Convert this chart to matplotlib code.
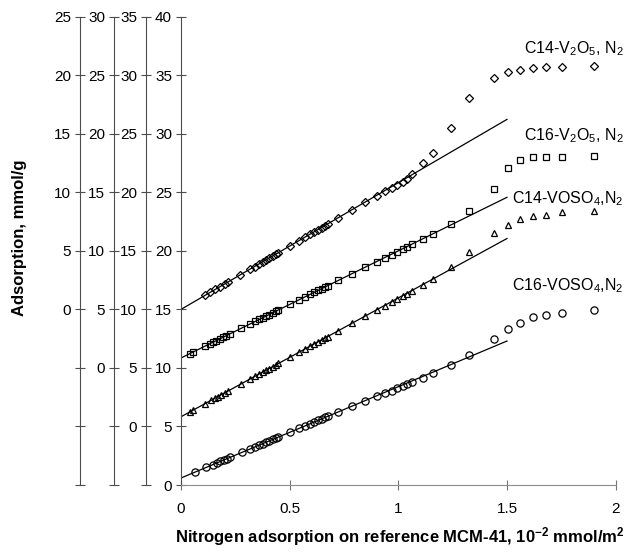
import matplotlib.pyplot as plt
from matplotlib.ticker import MultipleLocator, FuncFormatter

plt.rcParams["font.family"] = ["Liberation Sans", "DejaVu Sans"]
plt.rcParams["mathtext.fontset"] = "custom"
plt.rcParams["mathtext.rm"] = "Liberation Sans"
plt.rcParams["mathtext.it"] = "Liberation Sans:italic"
plt.rcParams["mathtext.bf"] = "Liberation Sans:bold"

# N2 adsorption on the reference MCM-41 (10^-2 mmol/m2); every sample shares these points
x_common = [0.319, 0.341, 0.360, 0.376, 0.391, 0.406, 0.422, 0.437, 0.448,
            0.503, 0.544, 0.571, 0.595, 0.613, 0.632, 0.647, 0.663, 0.675,
            0.724, 0.786, 0.847, 0.901, 0.939, 0.970, 0.995, 1.020, 1.041,
            1.064, 1.112, 1.158, 1.241, 1.327, 1.440,
            1.506, 1.560, 1.618, 1.678, 1.752, 1.902]

# low-pressure points differ a little from sample to sample
x_head_c14_v2o5 = [0.109, 0.132, 0.155, 0.178, 0.201, 0.216, 0.270]
x_head_c16_v2o5 = [0.040, 0.055, 0.109, 0.132, 0.147, 0.161, 0.178, 0.193,
                   0.208, 0.224, 0.277]
x_head_c14_voso4 = [0.041, 0.055, 0.110, 0.138, 0.155, 0.170, 0.186, 0.201,
                    0.216, 0.275]
x_head_c16_voso4 = [0.064, 0.115, 0.146, 0.166, 0.181, 0.196, 0.211, 0.226,
                    0.279]

# adsorption on each sample, mmol/g
y_c14_v2o5 = [1.22, 1.46, 1.70, 1.94, 2.18, 2.34, 2.90,
              3.42, 3.66, 3.87, 4.04, 4.20, 4.36, 4.53, 4.70, 4.82,
              5.42, 5.86, 6.15, 6.41, 6.61, 6.81, 6.97, 7.15, 7.28,
              7.81, 8.48, 9.14, 9.72, 10.10, 10.40, 10.65, 10.90, 11.12,
              11.53, 12.47, 13.33, 15.46, 18.07, 19.78,
              20.24, 20.44, 20.64, 20.67, 20.72, 20.78]
y_c16_v2o5 = [1.22, 1.35, 1.85, 2.06, 2.20, 2.32, 2.48, 2.62, 2.75, 2.90, 3.38,
              3.77, 3.97, 4.14, 4.29, 4.43, 4.56, 4.71, 4.85, 4.95,
              5.45, 5.83, 6.07, 6.29, 6.46, 6.63, 6.77, 6.92, 7.03,
              7.47, 8.04, 8.60, 9.09, 9.38, 9.62, 9.88, 10.13, 10.36,
              10.55, 11.00, 11.47, 12.30, 13.40, 15.28,
              17.05, 17.75, 18.04, 18.04, 18.04, 18.10]
y_c14_voso4 = [1.25, 1.39, 1.95, 2.23, 2.40, 2.56, 2.72, 2.87, 3.02, 3.62,
               4.07, 4.29, 4.48, 4.65, 4.80, 4.95, 5.11, 5.27, 5.38,
               5.94, 6.35, 6.63, 6.87, 7.05, 7.24, 7.40, 7.56, 7.68,
               8.18, 8.81, 9.43, 9.98, 10.30, 10.62, 10.87, 11.12, 11.34,
               11.55, 12.08, 12.59, 13.64, 14.92, 16.55,
               17.20, 17.69, 17.97, 18.06, 18.29, 18.42]
y_c16_voso4 = [1.12, 1.50, 1.74, 1.90, 2.01, 2.13, 2.25, 2.36, 2.78,
               3.09, 3.26, 3.41, 3.53, 3.65, 3.77, 3.89, 4.01, 4.09,
               4.52, 4.84, 5.05, 5.24, 5.38, 5.53, 5.65, 5.77, 5.86,
               6.25, 6.73, 7.21, 7.63, 7.86, 8.07, 8.28, 8.45, 8.62,
               8.82, 9.16, 9.53, 10.22, 11.07, 12.44,
               13.29, 13.86, 14.32, 14.55, 14.72, 14.92]

# linear fits of the low-coverage part (intercept, slope), drawn up to x = 1.5
fit_intercept = [0.00, 0.85, 0.83, 0.60]
fit_slope = [10.82, 9.15, 10.15, 7.80]
fit_x_end = 1.5

labels = [r"C14-V$_2$O$_5$, N$_2$", r"C16-V$_2$O$_5$, N$_2$",
          r"C14-VOSO$_4$,N$_2$", r"C16-VOSO$_4$,N$_2$"]
xs = [x_head_c14_v2o5 + x_common, x_head_c16_v2o5 + x_common,
      x_head_c14_voso4 + x_common, x_head_c16_voso4 + x_common]
ys = [y_c14_v2o5, y_c16_v2o5, y_c14_voso4, y_c16_voso4]

# each curve is lifted by 5 mmol/g; its own scale is the matching left axis
offsets = [15, 10, 5, 0]
markers = ["D", "s", "^", "o"]
msizes = [4.2, 5.0, 5.0, 5.2]
label_y = [36.85, 29.45, 24.05, 16.6]

spine_col = "0.3"

fig = plt.figure(figsize=(6.28, 5.54), dpi=100)
ax = fig.add_axes([0.2882, 0.1245, 0.6922, 0.8454])

for x, y, off, m, ms, b, k, lab, ly in zip(xs, ys, offsets, markers, msizes,
                                            fit_intercept, fit_slope, labels, label_y):
    ax.plot(x, [v + off for v in y], linestyle="none", marker=m, ms=ms,
            mfc="none", mec="black", mew=0.9, zorder=3)
    ax.plot([0, fit_x_end], [b + off, b + k * fit_x_end + off],
            color="black", lw=0.9, zorder=2)
    ax.text(2.035, ly, lab, ha="right", va="baseline", fontsize=11.5,
            clip_on=False)

ax.set_xlim(0, 2)
ax.set_ylim(0, 40)
ax.xaxis.set_major_locator(MultipleLocator(0.5))
ax.yaxis.set_major_locator(MultipleLocator(5))
ax.xaxis.set_major_formatter(FuncFormatter(lambda v, _: f"{v:g}"))
ax.yaxis.set_major_formatter(FuncFormatter(lambda v, _: f"{v:g}"))
ax.spines["top"].set_visible(False)
ax.spines["right"].set_visible(False)
ax.spines["left"].set_color(spine_col)
ax.spines["bottom"].set_color("0.55")
ax.tick_params(axis="y", direction="inout", length=7, width=0.8,
               color=spine_col, labelsize=11, pad=3)
ax.tick_params(axis="x", direction="inout", length=7, width=0.8,
               color="0.45", labelsize=11, pad=9)

# extra scales for the lifted curves
positions = [-0.232, -0.154, -0.0805]
for off, pos in zip(offsets[:3], positions):
    tw = ax.twinx()
    tw.set_ylim(-off, 40 - off)
    for side in ["top", "right", "bottom"]:
        tw.spines[side].set_visible(False)
    tw.spines["left"].set_visible(True)
    tw.spines["left"].set_position(("axes", pos))
    tw.spines["left"].set_color(spine_col)
    tw.yaxis.set_ticks_position("left")
    tw.yaxis.set_major_locator(MultipleLocator(5))
    tw.yaxis.set_major_formatter(
        FuncFormatter(lambda v, _: "" if v < 0 else f"{v:g}"))
    tw.tick_params(axis="y", direction="inout", length=7, width=0.8,
                   color=spine_col, labelsize=11, pad=3)

fig.text(20 / 628, 1 - 238 / 554, "Adsorption, mmol/g", rotation=90,
         ha="center", va="center", fontsize=12, fontweight="bold")
fig.text(400 / 628, 1 - 537 / 554,
         r"Nitrogen adsorption on reference MCM-41, 10$^{\mathbf{-2}}$ mmol/m$^{\mathbf{2}}$",
         ha="center", va="center", fontsize=12, fontweight="bold")

fig.savefig("out.png", dpi=100)
